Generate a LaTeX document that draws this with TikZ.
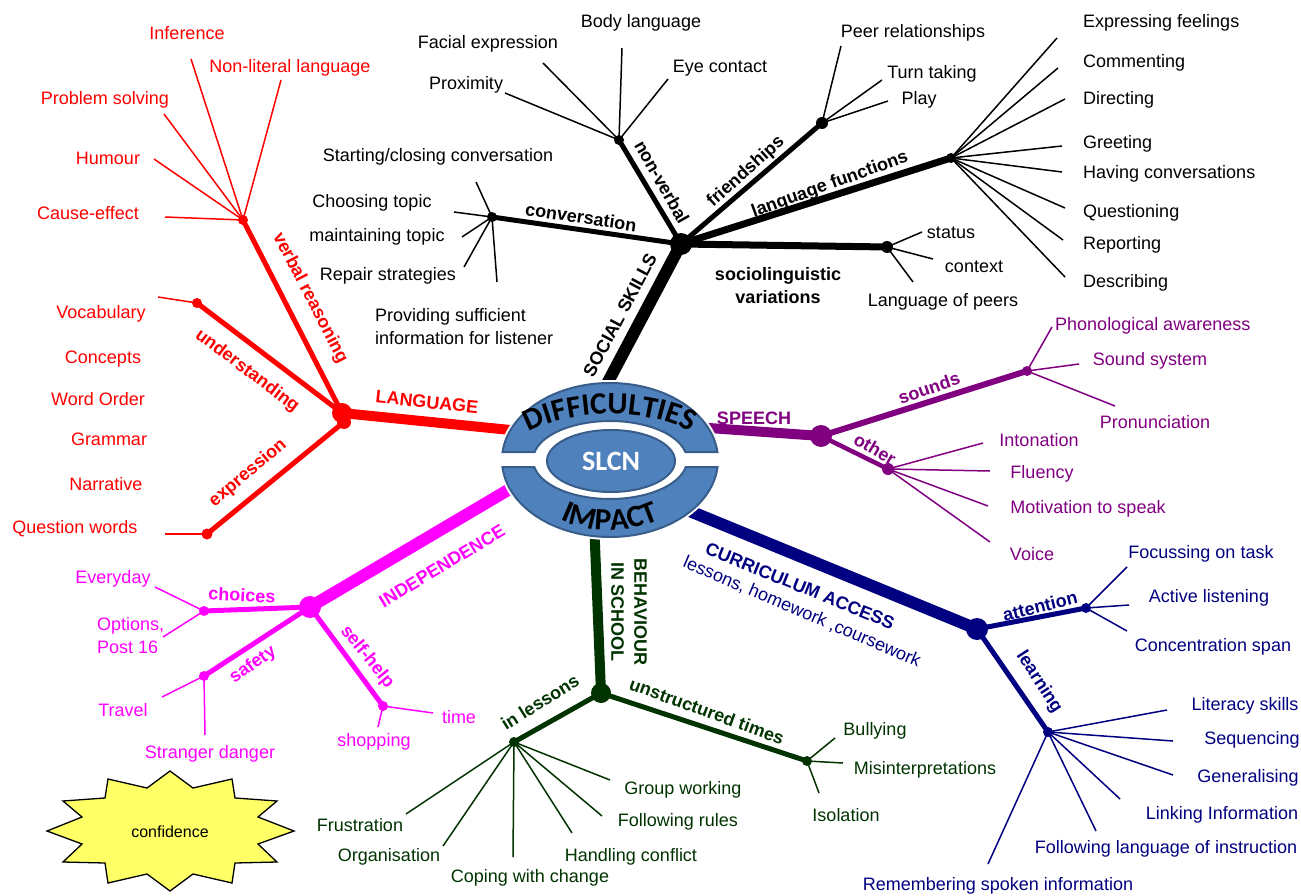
\documentclass[tikz,border=0pt]{standalone}
\usepackage{fontspec}
\setmainfont{Liberation Sans}
\newfontfamily\carl{Carlito}
\usetikzlibrary{decorations.text,shapes.geometric}
\pgfdeclarelayer{bg}
\pgfsetlayers{bg,main}
\definecolor{lang}{HTML}{FF0000}
\definecolor{spch}{HTML}{800080}
\definecolor{curr}{HTML}{000080}
\definecolor{beh}{HTML}{003300}
\definecolor{ind}{HTML}{FF00FF}
\definecolor{blueA}{HTML}{4F81BD}
\definecolor{blueB}{HTML}{385D8A}
\definecolor{star}{HTML}{FFFF66}
\newcommand\bandfont{\carl\bfseries\fontsize{31}{31}\selectfont}
\tikzset{
  itm/.style={font=\fontsize{18}{23}\selectfont, inner sep=0pt},
  lbl/.style={font=\fontsize{18}{23}\selectfont\bfseries, inner sep=0pt},
  jn/.style={circle, fill, inner sep=0pt, minimum size=#1},
  jn/.default=10pt,
  leaf/.style={line width=1.5pt},
  sub/.style={line width=5pt},
}
\begin{document}
\begin{tikzpicture}[x=1pt,y=-1pt]
\useasboundingbox (0,0) rectangle (1301,896);

% ---------- centre
\node[ellipse, fill=white, minimum width=222pt, minimum height=160pt, inner sep=0pt] (core) at (610,460) {};
\fill[blueA, draw=blueB, line width=2pt] (502.58,452) arc[start angle=185.96, end angle=354.04, x radius=108, y radius=77] -- (685.36,452) arc[start angle=348.16, end angle=191.84, x radius=77, y radius=39] -- cycle;
\fill[blueA, draw=blueB, line width=2pt] (717.55,467) arc[start angle=5.216, end angle=174.784, x radius=108, y radius=77] -- (534.25,467) arc[start angle=169.66, end angle=10.34, x radius=77, y radius=39] -- cycle;
\node[ellipse, fill=blueA, draw=blueB, line width=2pt, minimum width=128pt, minimum height=62pt, inner sep=0pt, text=white, font=\carl\bfseries\fontsize{28}{30}\selectfont] (slcn) at (611,461) {SLCN};
\path[decorate, decoration={text along path, text={|\bandfont|DIFFICULTIES}, text align=center}] (502,468) arc[start angle=180, end angle=360, x radius=108, y radius=54];
\path[decorate, decoration={text along path, text={|\bandfont|IMPACT}, text align=center}] (514,455) arc[start angle=180, end angle=0, x radius=96, y radius=75];

% ---------- LANGUAGE
\begin{scope}[color=lang]
\node[jn=20pt] (Lh) at (342,413) {};
\node[jn=14pt] (Lh2) at (344,422) {};
\coordinate (Le) at (530,432);
\node[jn=10pt] (Lvr) at (243,220) {};
\node[jn=10pt] (Lun) at (197,303) {};
\node[jn=11pt] (Lex) at (207,534) {};
\node[lbl, rotate=-6] (Llab) at (427,402) {LANGUAGE};
\node[lbl, rotate=-62.7] (Lvrl) at (310,298) {verbal reasoning};
\node[lbl, rotate=-37] (Lunl) at (247,371) {understanding};
\node[lbl, rotate=40] (Lexl) at (248,473) {expression};
\node[itm] (t1) at (187,33) {Inference};
\node[itm] (t2) at (290,68) {Non-literal language};
\node[itm] (t3) at (105,100) {Problem solving};
\node[itm] (t4) at (108,158) {Humour};
\node[itm] (t5) at (88,213) {Cause-effect};
\node[itm] (t6) at (101,314) {Vocabulary};
\node[itm] (t7) at (103,359) {Concepts};
\node[itm] (t8) at (98,399) {Word Order};
\node[itm] (t9) at (109,439) {Grammar};
\node[itm] (t10) at (106,484) {Narrative};
\node[itm] (t11) at (75,529) {Question words};
\end{scope}

% ---------- SOCIAL SKILLS
\begin{scope}[color=black]
\node[jn=22pt] (Sh) at (681,244) {};
\coordinate (Se) at (600,397);
\node[jn=10pt] (Sconv) at (492,217) {};
\node[jn=10pt] (Snv) at (619,140) {};
\node[jn=12pt] (Sfr) at (822,123) {};
\node[jn=10pt] (Slf) at (951,158) {};
\node[jn=12pt] (Ssv) at (887,247) {};
\node[lbl, rotate=62] (Slab) at (620,315) {SOCIAL SKILLS};
\node[lbl, rotate=-8.5] (Sconvl) at (581,217) {conversation};
\node[lbl, rotate=-60.5] (Snvl) at (662,182) {non-verbal};
\node[lbl, rotate=42] (Sfrl) at (746,172) {friendships};
\node[lbl, rotate=20] (Slfl) at (830,185) {language functions};
\node[lbl, align=center] (Ssvl) at (778,286) {sociolinguistic\\variations};
\node[itm] (s1) at (438,157) {Starting/closing conversation};
\node[itm] (s2) at (372,203) {Choosing topic};
\node[itm] (s3) at (377,237) {maintaining topic};
\node[itm] (s4) at (388,276) {Repair strategies};
\node[itm, align=left, anchor=west] (s5) at (375,327) {Providing sufficient\\information for listener};
\node[itm] (s6) at (488,44) {Facial expression};
\node[itm] (s7) at (641,23) {Body language};
\node[itm] (s8) at (466,85) {Proximity};
\node[itm] (s9) at (720,68) {Eye contact};
\node[itm] (s10) at (913,33) {Peer relationships};
\node[itm] (s11) at (932,74) {Turn taking};
\node[itm] (s12) at (919,100) {Play};
\node[itm, anchor=west] (s13) at (1083,23) {Expressing feelings};
\node[itm, anchor=west] (s14) at (1083,63) {Commenting};
\node[itm, anchor=west] (s15) at (1083,100) {Directing};
\node[itm, anchor=west] (s16) at (1083,144) {Greeting};
\node[itm, anchor=west] (s17) at (1083,174) {Having conversations};
\node[itm, anchor=west] (s18) at (1083,213) {Questioning};
\node[itm, anchor=west] (s19) at (1083,245) {Reporting};
\node[itm, anchor=west] (s20) at (1083,283) {Describing};
\node[itm] (s21) at (951,233) {status};
\node[itm] (s22) at (974,267) {context};
\node[itm] (s23) at (943,302) {Language of peers};
\end{scope}

% ---------- SPEECH
\begin{scope}[color=spch]
\node[jn=22pt] (Ph) at (821,436) {};
\coordinate (Pe) at (695,427);
\node[jn=10pt] (Psd) at (1027,371) {};
\node[jn=12pt] (Pot) at (888,469) {};
\node[lbl] (Plab) at (754,418) {SPEECH};
\node[lbl, rotate=19] (Psdl) at (929,388) {sounds};
\node[lbl, rotate=-30] (Potl) at (875,449) {other};
\node[itm, anchor=west] (p1) at (1055,326) {Phonological awareness};
\node[itm] (p2) at (1150,361) {Sound system};
\node[itm] (p3) at (1155,422) {Pronunciation};
\node[itm] (p4) at (1039,440) {Intonation};
\node[itm] (p5) at (1042,474) {Fluency};
\node[itm] (p6) at (1088,509) {Motivation to speak};
\node[itm] (p7) at (1032,554) {Voice};
\end{scope}

% ---------- CURRICULUM ACCESS
\begin{scope}[color=curr]
\node[jn=22pt] (Ch) at (977,629) {};
\coordinate (Ce) at (675,505);
\node[jn=10pt] (Cat) at (1086,608) {};
\node[jn=10pt] (Cle) at (1048,732) {};
\node[lbl, rotate=-22] (Clab) at (800,586) {CURRICULUM ACCESS};
\node[itm, rotate=-23] (Clab2) at (802,612) {lessons, homework ,coursework};
\node[lbl, rotate=14] (Catl) at (1040,606) {attention};
\node[lbl, rotate=-57] (Clel) at (1039,682) {learning};
\node[itm] (c1) at (1201,554) {Focussing on task};
\node[itm] (c2) at (1209,598) {Active listening};
\node[itm] (c3) at (1213,647) {Concentration span};
\node[itm] (c4) at (1245,706) {Literacy skills};
\node[itm] (c5) at (1252,740) {Sequencing};
\node[itm] (c6) at (1248,778) {Generalising};
\node[itm] (c7) at (1222,815) {Linking Information};
\node[itm] (c8) at (1166,849) {Following language of instruction};
\node[itm] (c9) at (998,886) {Remembering spoken information};
\end{scope}

% ---------- BEHAVIOUR IN SCHOOL
\begin{scope}[color=beh]
\node[jn=20pt] (Bh) at (601,693) {};
\coordinate (Be) at (594,520);
\node[jn=10pt] (Bil) at (514,742) {};
\node[jn=10pt] (Bun) at (807,761) {};
\node[lbl, rotate=-90, align=center] (Blab) at (629,612) {BEHAVIOUR\\IN SCHOOL};
\node[lbl, rotate=32] (Bill) at (540,702) {in lessons};
\node[lbl, rotate=-20] (Bunl) at (707,711) {unstructured times};
\node[itm] (b1) at (683,790) {Group working};
\node[itm] (b2) at (678,822) {Following rules};
\node[itm] (b3) at (631,857) {Handling conflict};
\node[itm] (b4) at (530,878) {Coping with change};
\node[itm] (b5) at (389,857) {Organisation};
\node[itm] (b6) at (360,825) {Frustration};
\node[itm] (b7) at (875,731) {Bullying};
\node[itm] (b8) at (925,770) {Misinterpretations};
\node[itm] (b9) at (846,815) {Isolation};
\end{scope}

% ---------- INDEPENDENCE
\begin{scope}[color=ind]
\node[jn=22pt] (Ih) at (310,607) {};
\coordinate (Ie) at (525,480);
\node[jn=10pt] (Ich) at (204,611) {};
\node[jn=10pt] (Isf) at (204,676) {};
\node[jn=10pt] (Ish) at (383,706) {};
\node[lbl, rotate=31] (Ilab) at (442,566) {INDEPENDENCE};
\node[lbl, rotate=-3] (Ichl) at (242,595) {choices};
\node[lbl, rotate=35] (Isfl) at (253,665) {safety};
\node[lbl, rotate=-51] (Ishl) at (367,657) {self-help};
\node[itm] (i1) at (113,579) {Everyday};
\node[itm, align=left, anchor=west] (i2) at (97,636) {Options,\\Post 16};
\node[itm] (i3) at (123,710) {Travel};
\node[itm] (i4) at (210,754) {Stranger danger};
\node[itm] (i5) at (374,742) {shopping};
\node[itm] (i6) at (459,717) {time};
\end{scope}

% ---------- confidence
\draw[fill=star, line width=1.3pt, line join=miter]
  (170,771) -- (193,788) -- (232,779) -- (235,798) -- (277,801) -- (258,817) -- (294,831) -- (258,844) -- (277,862) -- (235,863) -- (232,883) -- (193,874) -- (170,891) -- (147,874) -- (108,883) -- (105,863) -- (63,862) -- (82,844) -- (47,831) -- (82,817) -- (63,801) -- (105,798) -- (108,779) -- (147,788) -- cycle;
\node[font=\fontsize{16}{18}\selectfont, inner sep=0pt] (conf) at (170,832) {confidence};

% ---------- connectors
\begin{pgfonlayer}{bg}
\begin{scope}[color=lang]
\draw[line width=10pt] (Lh.center) -- (Le);
\draw[sub] (Lh.center) -- (Lvr.center);
\draw[sub] (Lh.center) -- (Lun.center);
\draw[sub] (Lh2.center) -- (Lex.center);
\foreach \n/\px/\py in {la/191/59, lb/281/80, lc/164/114, ld/154/159, le/165/217}
  {\coordinate (\n) at (\px,\py); \draw[leaf] (Lvr.center) -- (\n);}
\coordinate (lf) at (158,297); \draw[leaf] (Lun.center) -- (lf);
\coordinate (lg) at (165,534); \draw[leaf] (Lex.center) -- (lg);
\end{scope}
\begin{scope}[color=black]
\draw[line width=12pt] (Sh.center) -- (Se);
\draw[sub] (Sh.center) -- (Sconv.center);
\draw[sub] (Sh.center) -- (Snv.center);
\draw[sub] (Sh.center) -- (Sfr.center);
\draw[line width=7pt] (Sh.center) -- (Slf.center);
\draw[line width=7pt] (Sh.center) -- (Ssv.center);
\foreach \n/\px/\py in {sa/476/182, sb/454/212, sc/462/237, sd/464/267, se/497/282}
  {\coordinate (\n) at (\px,\py); \draw[leaf] (Sconv.center) -- (\n);}
\foreach \n/\px/\py in {sf/505/93, sg/543/63, sh/622/48, si/668/79}
  {\coordinate (\n) at (\px,\py); \draw[leaf] (Snv.center) -- (\n);}
\foreach \n/\px/\py in {sj/841/46, sk/882/80, sl/888/101}
  {\coordinate (\n) at (\px,\py); \draw[leaf] (Sfr.center) -- (\n);}
\foreach \n/\px/\py in {sm/1057/38, sn/1058/68, so/1065/99, sp/1062/146, sq/1062/172, sr/1065/208, ss/1063/240, st/1065/277}
  {\coordinate (\n) at (\px,\py); \draw[leaf] (Slf.center) -- (\n);}
\foreach \n/\px/\py in {su/922/232, sv/933/259, sw/913/282}
  {\coordinate (\n) at (\px,\py); \draw[leaf] (Ssv.center) -- (\n);}
\end{scope}
\begin{scope}[color=spch]
\draw[line width=10pt] (Ph.center) -- (Pe);
\draw[line width=6pt] (Ph.center) -- (Psd.center);
\draw[line width=4.5pt] (Ph.center) -- (Pot.center);
\foreach \n/\px/\py in {pa/1052/327, pb/1079/364, pc/1115/406}
  {\coordinate (\n) at (\px,\py); \draw[leaf] (Psd.center) -- (\n);}
\foreach \n/\px/\py in {pd/983/443, pe/990/471, pf/988/506, pg/990/542}
  {\coordinate (\n) at (\px,\py); \draw[leaf] (Pot.center) -- (\n);}
\end{scope}
\begin{scope}[color=curr]
\draw[line width=12pt] (Ch.center) -- (Ce);
\draw[sub] (Ch.center) -- (Cat.center);
\draw[sub] (Ch.center) -- (Cle.center);
\foreach \n/\px/\py in {ca/1127/567, cb/1129/605, cc/1127/631}
  {\coordinate (\n) at (\px,\py); \draw[leaf] (Cat.center) -- (\n);}
\foreach \n/\px/\py in {cd/1167/710, ce/1173/741, cf/1173/775, cg/1120/799, ch/1096/831, ci/988/864}
  {\coordinate (\n) at (\px,\py); \draw[leaf] (Cle.center) -- (\n);}
\end{scope}
\begin{scope}[color=beh]
\draw[line width=10pt] (Bh.center) -- (Be);
\draw[sub] (Bh.center) -- (Bil.center);
\draw[sub] (Bh.center) -- (Bun.center);
\foreach \n/\px/\py in {ba/406/814, bb/443/846, bc/513/857, bd/572/833, be/602/816, bf/610/780}
  {\coordinate (\n) at (\px,\py); \draw[leaf] (Bil.center) -- (\n);}
\foreach \n/\px/\py in {bg/835/738, bh/843/763, bi/819/793}
  {\coordinate (\n) at (\px,\py); \draw[leaf] (Bun.center) -- (\n);}
\end{scope}
\begin{scope}[color=ind]
\draw[line width=12pt] (Ih.center) -- (Ie);
\draw[sub] (Ih.center) -- (Ich.center);
\draw[sub] (Ih.center) -- (Isf.center);
\draw[sub] (Ih.center) -- (Ish.center);
\foreach \n/\px/\py in {ia/155/587, ib/163/637}
  {\coordinate (\n) at (\px,\py); \draw[leaf] (Ich.center) -- (\n);}
\foreach \n/\px/\py in {ic/162/697, id/205/735}
  {\coordinate (\n) at (\px,\py); \draw[leaf] (Isf.center) -- (\n);}
\foreach \n/\px/\py in {ie/433/713, if/378/727}
  {\coordinate (\n) at (\px,\py); \draw[leaf] (Ish.center) -- (\n);}
\end{scope}
\end{pgfonlayer}
\end{tikzpicture}
\end{document}
